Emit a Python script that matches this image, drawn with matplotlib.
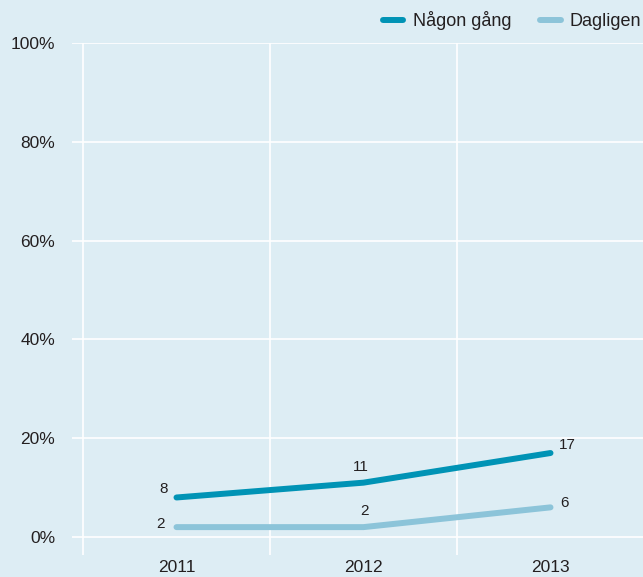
import matplotlib
matplotlib.use("Agg")
import matplotlib.pyplot as plt

years = ["2011", "2012", "2013"]
nagon_gang = [8, 11, 17]
dagligen = [2, 2, 6]
y_ticks = [0, 20, 40, 60, 80, 100]
y_labels = ["0%", "20%", "40%", "60%", "80%", "100%"]

BG = "#ddedf4"
DARK = "#0093b5"
LIGHT = "#8cc4d9"
TEXT = "#231f20"

plt.rcParams["font.family"] = ["Liberation Sans", "DejaVu Sans"]

fig = plt.figure(figsize=(6.43, 5.77), dpi=100, facecolor=BG)
# axes box: left edge where the horizontal grid starts, right edge at figure edge
ax = fig.add_axes([72 / 643, (577 - 555) / 577, 571 / 643, (555 - 43) / 577])
ax.set_facecolor(BG)

x = list(range(len(years)))
ax.set_xlim(-0.5 - 11 / 187, 2.5 - 1 / 187)
ax.set_ylim(-18 / 4.94, 100)

for y in y_ticks:
    ax.axhline(y, color="white", lw=1.2, zorder=1)
for xv in [-0.5, 0.5, 1.5, 2.5]:
    ax.axvline(xv, color="white", lw=1.2, zorder=1)

ax.plot(x, nagon_gang, color=DARK, lw=4.3, solid_capstyle="round",
        solid_joinstyle="round", zorder=3, label="Någon gång")
ax.plot(x, dagligen, color=LIGHT, lw=4.3, solid_capstyle="round",
        solid_joinstyle="round", zorder=3, label="Dagligen")

# value label offsets (points) per series and year
offsets = {
    "nagon": [(-9.5, 6), (-2, 11), (12, 6)],
    "dag": [(-11.5, 2.5), (0.5, 11.5), (10, 3)],
}
for key, series in (("nagon", nagon_gang), ("dag", dagligen)):
    for i, v in enumerate(series):
        dx, dy = offsets[key][i]
        ax.annotate(str(v), (i, v), xytext=(dx, dy), textcoords="offset points",
                    ha="center", va="center", fontsize=11, color=TEXT)

ax.set_xticks(x)
ax.set_xticklabels(years)
ax.set_yticks(y_ticks)
ax.set_yticklabels(y_labels)
ax.tick_params(axis="both", length=0, labelsize=12.5, colors=TEXT)
ax.tick_params(axis="y", pad=12)
ax.tick_params(axis="x", pad=3.5)
for spine in ax.spines.values():
    spine.set_visible(False)

ax.legend(loc="lower right", bbox_to_anchor=(1.0, 1.021), ncol=2, frameon=False,
          fontsize=13, handlelength=1.15, handletextpad=0.5, columnspacing=1.6,
          borderpad=0.1, borderaxespad=0.0, labelcolor=TEXT)

fig.savefig("out.png", dpi=100, facecolor=BG)
